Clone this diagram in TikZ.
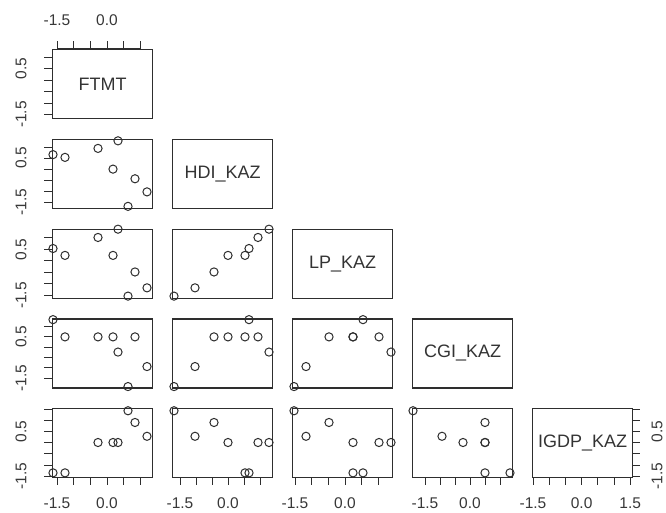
\documentclass[tikz,border=0pt]{standalone}
\usepackage{fontspec}
\setmainfont{Liberation Sans}
\newcommand\varval[1]{\ifcase#1 \va\or\vb\or\vc\or\vd\or\ve\fi}
\begin{document}
\begin{tikzpicture}[x=1pt,y=-1pt,
  panel/.style={draw=black!82, line width=1.3pt, minimum width=100pt, minimum height=69pt, inner sep=0pt, anchor=north west},
  obs/.style={draw=black!82, line width=1pt},
  axisline/.style={draw=black!82, line width=1pt},
  ticklab/.style={font=\fontsize{15.5}{16}\selectfont, text=black!78, inner sep=0pt},
  varlab/.style={font=\fontsize{18}{18}\selectfont, text=black!80, inner sep=0pt}]
\useasboundingbox (0,0) rectangle (666,513);
% panels
\foreach \i in {0,...,4}{
  \foreach \j in {0,...,\i}{
    \node[panel] (p\i\j) at ({52+120*\j},{49+89.75*\i}) {};
  }
}
% variable names
\foreach \i/\nm in {0/FTMT,1/HDI\_KAZ,2/LP\_KAZ,3/CGI\_KAZ,4/IGDP\_KAZ}{
  \node[varlab] (lab\i) at (p\i\i.center) {\nm};
}
% observations
\foreach \i in {1,...,4}{
  \pgfmathtruncatemacro\jm{\i-1}
  \foreach \j in {0,...,\jm}{
    \foreach \va/\vb/\vc/\vd/\ve in {.01/.77/.71/.98/.06, .13/.73/.61/.73/.06, .46/.86/.87/.73/.5, .61/.56/.61/.73/.5, .66/.97/.99/.51/.5, .76/.02/.02/.01/.96, .83/.42/.37/.73/.79, .95/.23/.14/.30/.59}{
      \edef\tx{\varval{\j}}
      \edef\ty{\varval{\i}}
      \pgfmathsetmacro\px{52+120*\j+100*\tx}
      \pgfmathsetmacro\py{49+89.75*\i+69-69*\ty}
      \draw[obs] (\px,\py) circle[radius=4.1];
    }
  }
}
% bottom axes
\foreach \j/\s/\st/\n in {0/.05/.1667/5, 1/.08/.16/5, 2/.03/.1667/5, 3/.13/.15/5, 4/.01/.162/6}{
  \draw[axisline] ({52+120*\j+100*\s},477) -- ({52+120*\j+100*(\s+\n*\st)},477);
  \foreach \k in {0,...,\n}{
    \draw[axisline] ({52+120*\j+100*(\s+\k*\st)},477) -- ++(0,8);
  }
  \node[ticklab] (bl\j a) at ({52+120*\j+100*\s},503) {-1.5};
  \node[ticklab] (bl\j b) at ({52+120*\j+100*(\s+3*\st)},503) {0.0};
}
\node[ticklab] (bl4c) at ({52+480+100*(.01+6*.162)},503) {1.5};
% top axis (first column)
\draw[axisline] ({52+100*.05},49) -- ({52+100*(.05+5*.1667)},49);
\foreach \k in {0,...,5}{
  \draw[axisline] ({52+100*(.05+\k*.1667)},49) -- ++(0,-8);
}
\node[ticklab] (tla) at ({52+100*.05},20) {-1.5};
\node[ticklab] (tlb) at ({52+100*(.05+3*.1667)},20) {0.0};
% left axes
\foreach \i/\s/\st/\n in {0/.05/.1667/5, 1/.08/.16/5, 2/.03/.1667/5, 3/.13/.15/5, 4/.01/.162/6}{
  \draw[axisline] (52,{118+89.75*\i-69*\s}) -- (52,{118+89.75*\i-69*(\s+\n*\st)});
  \foreach \k in {0,...,\n}{
    \draw[axisline] (52,{118+89.75*\i-69*(\s+\k*\st)}) -- ++(-8,0);
  }
  \node[ticklab, rotate=90] (ll\i a) at (21,{118+89.75*\i-69*\s}) {-1.5};
  \node[ticklab, rotate=90] (ll\i b) at (21,{118+89.75*\i-69*(\s+4*\st)}) {0.5};
}
% right axis (last row)
\draw[axisline] (632,{477-69*.01}) -- (632,{477-69*(.01+6*.162)});
\foreach \k in {0,...,6}{
  \draw[axisline] (632,{477-69*(.01+\k*.162)}) -- ++(8,0);
}
\node[ticklab, rotate=90] (rla) at (657,{477-69*.01}) {-1.5};
\node[ticklab, rotate=90] (rlb) at (657,{477-69*(.01+4*.162)}) {0.5};
\end{tikzpicture}
\end{document}
